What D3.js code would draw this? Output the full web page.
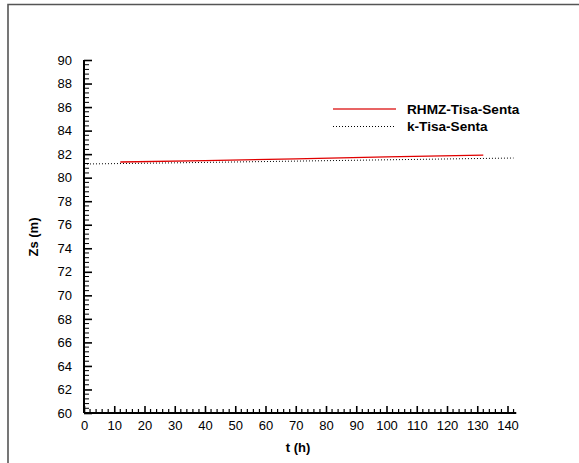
<!DOCTYPE html>
<html><head><meta charset="utf-8">
<script src="https://cdn.jsdelivr.net/npm/d3@7"></script>
<style>body{margin:0;background:#fff}svg{display:block}</style>
</head><body>
<script>
// Data
const seriesNames = ["RHMZ-Tisa-Senta", "k-Tisa-Senta"];
const rhmzT = [12, 40, 70, 100, 132];
const rhmzZs = [81.33, 81.45, 81.6, 81.77, 81.92];
const kT = [0, 30, 60, 90, 120, 142];
const kZs = [81.16, 81.26, 81.37, 81.48, 81.59, 81.67];
const xTicks = [0,10,20,30,40,50,60,70,80,90,100,110,120,130,140];
const yTicks = [60,62,64,66,68,70,72,74,76,78,80,82,84,86,88,90];

const W = 579, H = 463;
const svg = d3.select("body").append("svg").attr("width", W).attr("height", H);
const font = "'Liberation Sans', Arial, sans-serif";

// frame
svg.append("path").attr("d", `M8,${H} L8,4.5 L${W},4.5`).attr("fill","none")
  .attr("stroke","#555").attr("stroke-width",1.6);

const x = d3.scaleLinear().domain([0,140]).range([84, 507.5]);
const y = d3.scaleLinear().domain([60,90]).range([413, 60]);

// minor ticks
const xMinor = d3.range(0, 143, 2).filter(v => v % 10 !== 0);
const yMinor = d3.range(60, 90.001, 0.4).map(v => +v.toFixed(1)).filter(v => Math.abs(v/2 - Math.round(v/2)) > 1e-6);

const gx = svg.append("g").attr("transform", "translate(0,413)");
gx.call(d3.axisBottom(x).tickValues(xTicks).tickSizeInner(-7).tickSizeOuter(0).tickPadding(8));
gx.select(".domain").remove();
gx.append("line").attr("x1", x(0)).attr("x2", x(142.9)).attr("stroke","#000").attr("stroke-width",2);
gx.selectAll(".tick line").attr("stroke-width",1.6);
gx.selectAll(".tick text").attr("font-family", font).attr("font-size", 13).attr("fill","#000");
gx.selectAll(".minor").data(xMinor).enter().append("line").attr("class","minor")
  .attr("x1", d => x(d)).attr("x2", d => x(d)).attr("y1", 0).attr("y2", -4)
  .attr("stroke","#000").attr("stroke-width",1.2);

const gy = svg.append("g").attr("transform", `translate(${x(0)},0)`);
gy.call(d3.axisLeft(y).tickValues(yTicks).tickSizeInner(-8).tickSizeOuter(0).tickPadding(12));
gy.select(".domain").remove();
gy.append("line").attr("y1", y(60)).attr("y2", y(90)).attr("stroke","#000").attr("stroke-width",2);
gy.selectAll(".tick line").attr("stroke-width",1.6);
gy.selectAll(".tick text").attr("font-family", font).attr("font-size", 13).attr("fill","#000");
gy.selectAll(".minor").data(yMinor).enter().append("line").attr("class","minor")
  .attr("y1", d => y(d)).attr("y2", d => y(d)).attr("x1", 0).attr("x2", 5)
  .attr("stroke","#000").attr("stroke-width",1);

// lines
const line = d3.line().x(d => x(d[0])).y(d => y(d[1]));
svg.append("path").datum(kT.map((t,i)=>[t,kZs[i]])).attr("d", line)
  .attr("fill","none").attr("stroke","#000").attr("stroke-width",1).attr("stroke-dasharray","1,2");
svg.append("path").datum(rhmzT.map((t,i)=>[t,rhmzZs[i]])).attr("d", line)
  .attr("fill","none").attr("stroke","#e00000").attr("stroke-width",1.4);

// legend
const leg = svg.append("g");
leg.append("line").attr("x1",333).attr("x2",396).attr("y1",109).attr("y2",109)
  .attr("stroke","#e03030").attr("stroke-width",1.4);
leg.append("line").attr("x1",333).attr("x2",396).attr("y1",126.5).attr("y2",126.5)
  .attr("stroke","#000").attr("stroke-width",1).attr("stroke-dasharray","1,2");
leg.append("text").attr("x",407).attr("y",113.5).text(seriesNames[0])
  .attr("font-family",font).attr("font-size",13.6).attr("font-weight","bold");
leg.append("text").attr("x",407).attr("y",130.5).text(seriesNames[1])
  .attr("font-family",font).attr("font-size",13.6).attr("font-weight","bold");

// axis titles
svg.append("text").attr("x",298).attr("y",452).attr("text-anchor","middle")
  .attr("font-family",font).attr("font-size",13).attr("font-weight","bold").text("t (h)");
svg.append("text").attr("transform","translate(37.5,237) rotate(-90)").attr("text-anchor","middle")
  .attr("font-family",font).attr("font-size",13).attr("font-weight","bold").text("Zs (m)");
</script>
</body></html>
